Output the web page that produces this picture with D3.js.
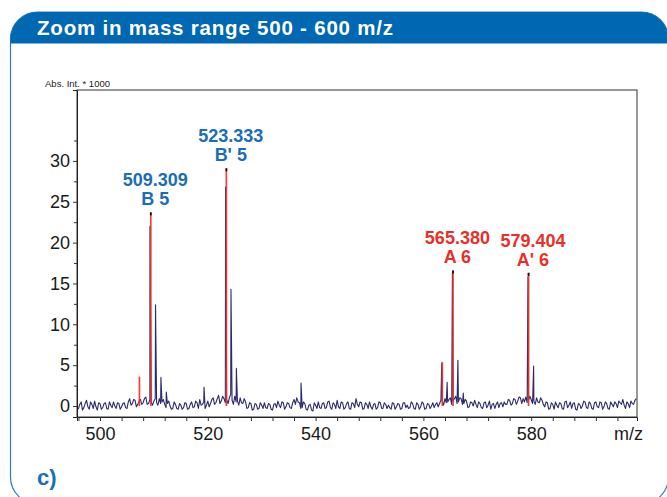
<!DOCTYPE html>
<html><head><meta charset="utf-8">
<script src="https://cdn.jsdelivr.net/npm/d3@7/dist/d3.min.js"></script>
<style>
body{margin:0;background:#fff}
svg{display:block}
text{font-family:"Liberation Sans",Arial,Helvetica,sans-serif}
</style>
</head><body>
<svg id="chart" width="667" height="497"></svg>
<script>
// ---------- data ----------
const title = "Zoom in mass range 500 - 600 m/z";
const yAxisTitle = "Abs. Int. * 1000";
const xAxisTitle = "m/z";
const panelLabel = "c)";
const xTickLabels = [500, 520, 540, 560, 580];
const xMinorTicks = [496,500,504,508,512,516,520,524,528,532,536,540,544,548,552,556,560,564,568,572,576,580,584,588,592,596];
const yTickLabels = [0, 5, 10, 15, 20, 25, 30];
const yMinorTicks = [2.5, 7.5, 12.5, 17.5, 22.5, 27.5, 32.5];

// baseline noise (Abs. Int. * 1000), read every 0.5 m/z from 495.5
const baselineStart = 495.5, baselineStep = 0.5;
const baseline = [
  0.1,-0.3,0.5,-0.2,0.7,-0.4,0.2,0.6,-0.5,0.3,
  -0.2,0.4,-0.4,0.1,0.5,-0.3,0.3,-0.1,0.4,-0.3,
  0.9,0.3,0.7,0.2,0.8,0.4,1.1,0.3,0.5,0.6,
  0.4,0.9,0.5,0.2,0.3,0.0,-0.3,0.2,-0.4,0.1,
  -0.2,0.3,-0.3,0.5,-0.1,0.4,0.8,0.2,-0.3,0.6,
  0.3,1.0,0.4,1.3,0.6,0.9,0.8,1.0,0.7,1.2,
  0.6,1.0,0.3,0.5,-0.2,0.3,-0.4,0.2,-0.3,0.1,
  0.4,-0.3,0.2,-0.5,0.3,0.6,-0.2,0.4,-0.1,0.3,
  -0.3,0.8,1.0,0.4,-0.2,0.3,-0.5,0.2,-0.6,0.1,
  0.5,-0.3,0.4,-0.2,0.6,-0.4,0.2,0.7,-0.3,0.4,
  -0.2,0.5,-0.4,0.3,0.9,-0.1,0.4,-0.3,0.2,0.5,
  -0.4,0.3,-0.2,0.4,-0.3,0.2,0.1,-0.4,0.3,-0.1,
  0.2,-0.3,0.4,0.1,-0.2,0.3,-0.4,0.2,-0.1,0.3,
  -0.3,0.2,0.0,-0.2,0.4,0.3,0.6,0.9,0.5,1.0,
  0.6,1.2,0.5,0.9,0.3,0.6,-0.1,0.4,0.7,-0.2,
  0.3,-0.3,0.5,0.1,-0.4,0.3,0.2,-0.2,0.4,0.5,
  0.2,0.7,0.3,0.8,0.6,1.0,0.9,1.1,0.7,0.8,
  0.6,1.0,0.4,0.7,-0.1,0.4,-0.3,0.2,0.5,-0.2,
  0.3,-0.4,0.6,0.1,-0.3,0.4,-0.5,0.2,0.0,0.5,
  -0.3,0.3,-0.4,0.5,-0.2,0.4,-0.1,0.3,-0.4,0.2,
  0.5,-0.2,0.4,0.8,-0.3,0.3,0.6,0.2,0.9
];
// in-between baseline readings, every 0.5 m/z from 495.75
const baselineMidStart = 495.75;
const baselineMid = [
  -0.4,0.2,-0.5,0.3,-0.1,0.5,-0.3,-0.1,0.4,-0.4,
  0.3,-0.3,0.5,-0.2,0.0,0.4,-0.4,0.3,-0.2,0.5,
  0.1,0.8,-0.1,0.6,0.2,0.9,0.2,0.8,0.1,0.9,
  0.1,0.3,0.8,-0.2,0.6,-0.4,0.5,-0.3,0.3,-0.4,
  0.4,-0.4,0.2,-0.2,0.6,-0.3,0.1,0.5,0.1,-0.1,
  0.8,0.2,0.9,0.3,1.2,0.4,0.3,1.4,0.2,0.5,
  0.1,0.4,0.9,-0.3,0.4,-0.5,0.3,-0.4,0.4,-0.3,
  -0.2,0.3,-0.4,0.2,-0.2,0.1,0.5,-0.4,0.4,-0.2,
  0.4,0.2,0.5,-0.3,0.5,-0.4,0.1,-0.5,0.4,-0.3,
  -0.2,0.3,-0.3,0.5,-0.2,0.4,-0.3,-0.1,0.5,-0.4,
  0.3,-0.3,0.4,-0.2,0.2,0.5,-0.4,0.4,-0.3,-0.1,
  0.2,-0.4,0.5,-0.3,0.4,-0.3,-0.2,0.4,-0.4,0.3,
  -0.4,0.4,-0.2,-0.3,0.5,-0.3,0.4,-0.4,0.5,-0.4,
  0.3,-0.3,0.4,0.2,-0.1,0.7,0.1,0.4,0.8,0.2,
  0.9,0.3,1.0,0.2,0.8,-0.2,0.5,0.0,0.2,0.5,
  -0.2,0.4,-0.2,0.6,0.2,-0.3,0.5,0.3,-0.1,0.2,
  0.8,0.1,0.9,0.2,1.1,0.3,0.5,0.4,1.2,0.3,
  0.2,0.5,1.0,0.2,0.5,-0.4,0.4,-0.4,0.1,0.4,
  -0.3,0.5,-0.2,0.5,0.3,-0.4,0.3,-0.3,0.6,-0.2,
  0.5,-0.3,0.4,-0.1,0.5,-0.4,0.5,-0.3,0.5,-0.1,
  0.3,0.6,0.2,0.1,0.5,-0.2,0.3,0.7
];

// measured spectrum peak apexes
const peakMz  = [509.27, 510.3, 511.3, 512.3, 519.3, 523.3, 524.3, 525.3, 537.3, 563.4, 564.4, 565.38, 566.4, 567.4, 579.4, 580.45];
const peakInt = [22.0,   12.4,  3.5,   1.7,   2.3,   26.8,  14.3,  4.6,   2.8,   5.2,   2.9,   16.3,   5.6,   1.6,   15.8,  4.9];

// assigned (stick) peaks
const stickMz  = [507.2, 509.309, 523.333, 563.4, 565.380, 579.404];
const stickInt = [3.6,   23.7,    29.1,    5.4,   16.6,    16.3];

// annotations
const labelMz     = [509.309, 523.333, 565.380, 579.404];
const labelTop    = ["509.309", "523.333", "565.380", "579.404"];
const labelBottom = ["B 5", "B' 5", "A 6", "A' 6"];
const labelGroup  = ["B", "B", "A", "A"];

// ---------- drawing ----------
const svg = d3.select("#chart");
const W = 667, H = 497;
const blue = "#0067b2", red = "#e8302a", navy = "#2c2a6c";

// panel frame
const defs = svg.append("defs");
defs.append("clipPath").attr("id", "panelClip")
  .append("rect").attr("x", 10.5).attr("y", 12).attr("width", 658).attr("height", 492).attr("rx", 27);
svg.append("rect").attr("x", 10.5).attr("y", 12).attr("width", 658).attr("height", 492).attr("rx", 27)
  .attr("fill", "none").attr("stroke", "#2f7cc4").attr("stroke-width", 1.2);
svg.append("rect").attr("x", 0).attr("y", 12).attr("width", W).attr("height", 31.5)
  .attr("fill", blue).attr("clip-path", "url(#panelClip)");
svg.append("text").attr("x", 37).attr("y", 35).text(title)
  .attr("fill", "#fff").attr("font-weight", "bold").attr("font-size", 20.5)
  .attr("textLength", 356).attr("lengthAdjust", "spacing");

// plot area
const L = 77, R = 637, T = 90, B = 417;
const x = d3.scaleLinear().domain([495.73, 599.63]).range([L, R]);
const y = d3.scaleLinear().domain([-1.346, 38.68]).range([B, T]);

defs.append("clipPath").attr("id", "plotClip")
  .append("rect").attr("x", L).attr("y", T).attr("width", R - L).attr("height", B - T);

// spectrum points
const pts = baseline.map((v, i) => [baselineStart + i * baselineStep, v])
  .concat(baselineMid.map((v, i) => [baselineMidStart + i * baselineStep, v]))
  .concat(peakMz.map((m, i) => [m, peakInt[i]]))
  .sort((a, b) => a[0] - b[0]);

const plot = svg.append("g").attr("clip-path", "url(#plotClip)");
plot.append("path").datum(pts)
  .attr("d", d3.line().x(d => x(d[0])).y(d => y(d[1])))
  .attr("fill", "none").attr("stroke", navy).attr("stroke-width", 1.1).attr("stroke-linejoin", "round");

// red sticks
plot.selectAll("line.stick").data(stickMz).join("line").attr("class", "stick")
  .attr("x1", d => x(d) + 0.6).attr("x2", d => x(d) + 0.6)
  .attr("y1", y(0)).attr("y2", (d, i) => y(stickInt[i]))
  .attr("stroke", red).attr("stroke-width", 1.7).attr("opacity", 0.9);
// black tips on annotated sticks
plot.selectAll("line.tip").data(labelMz).join("line").attr("class", "tip")
  .attr("x1", d => x(d) + 0.6).attr("x2", d => x(d) + 0.6)
  .attr("y1", d => y(stickInt[stickMz.indexOf(d)])).attr("y2", d => y(stickInt[stickMz.indexOf(d)]) + 3)
  .attr("stroke", "#111").attr("stroke-width", 1.8);

// frame
svg.append("rect").attr("x", L).attr("y", T).attr("width", R - L).attr("height", B - T)
  .attr("fill", "none").attr("stroke", "#333").attr("stroke-width", 1);

// y axis
svg.append("g").attr("transform", `translate(${L},0)`)
  .call(d3.axisLeft(y).tickValues(yTickLabels).tickSize(4).tickPadding(3).tickFormat(d3.format("d")));
svg.append("g").attr("transform", `translate(${L},0)`)
  .call(d3.axisLeft(y).tickValues(yMinorTicks).tickSize(3).tickFormat(""))
  .call(g => g.select(".domain").remove());
// x axis
svg.append("g").attr("transform", `translate(0,${B})`)
  .call(d3.axisBottom(x).tickValues(xMinorTicks).tickSize(4).tickPadding(6)
    .tickFormat(d => xTickLabels.includes(d) ? d : ""));
svg.selectAll(".tick text").attr("font-size", 18).attr("fill", "#1a1a1a")
  .attr("font-family", '"Liberation Sans",Arial,sans-serif');
svg.selectAll(".tick line").attr("stroke", "#333");
svg.selectAll(".domain").attr("stroke", "#222");

svg.append("text").attr("x", 45).attr("y", 87).text(yAxisTitle)
  .attr("font-size", 9).attr("fill", "#222").attr("textLength", 65).attr("lengthAdjust", "spacingAndGlyphs");
svg.append("text").attr("x", 614).attr("y", 440).text(xAxisTitle)
  .attr("font-size", 18).attr("fill", "#1a1a1a");

// peak annotations
const ann = svg.append("g").attr("font-weight", "bold").attr("font-size", 18).attr("text-anchor", "middle");
labelMz.forEach((m, i) => {
  const top = y(stickInt[stickMz.indexOf(m)]);
  const col = labelGroup[i] === "B" ? "#1a6db6" : red;
  ann.append("text").attr("x", x(m) + 5).attr("y", top - 26).attr("fill", col).text(labelTop[i]);
  ann.append("text").attr("x", x(m) + 5).attr("y", top - 7).attr("fill", col).text(labelBottom[i]);
});

// panel label
svg.append("text").attr("x", 37).attr("y", 485).text(panelLabel)
  .attr("font-weight", "bold").attr("font-size", 22).attr("fill", "#1a6db6");
</script>
</body></html>
